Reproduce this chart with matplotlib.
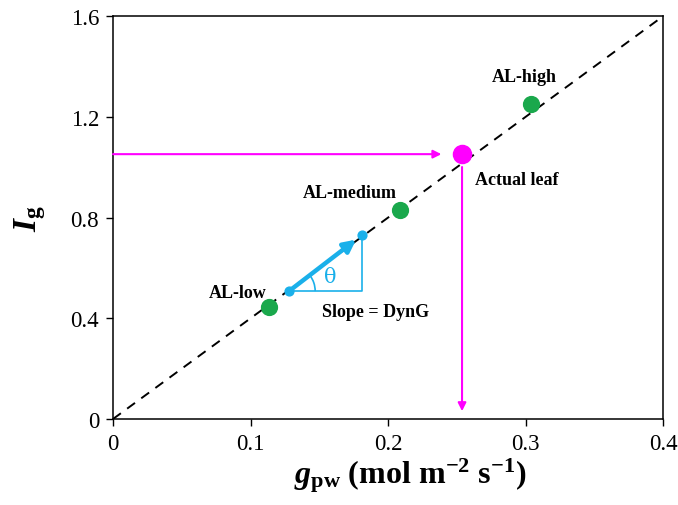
import numpy as np
import matplotlib.pyplot as plt
from matplotlib.patches import Arc

plt.rcParams['font.family'] = 'Liberation Serif'
plt.rcParams['mathtext.fontset'] = 'custom'
plt.rcParams['mathtext.rm'] = 'Liberation Serif:bold'
plt.rcParams['mathtext.it'] = 'Liberation Serif:bold:italic'
plt.rcParams['mathtext.bf'] = 'Liberation Serif:bold'

# leaf groups on the 1:1 DynG line
names = ['AL-low', 'AL-medium', 'AL-high']
gpw = [0.1135, 0.2087, 0.304]
ig = [0.444, 0.829, 1.25]

actual_g = 0.2538
actual_i = 1.052

# slope triangle points
tri_x = [0.128, 0.181]
tri_y = [0.508, 0.730]

line_x = [0, 0.4]
line_y = [0, 1.6]

xticks = [0, 0.1, 0.2, 0.3, 0.4]
xticklabels = ['0', '0.1', '0.2', '0.3', '0.4']
yticks = [0, 0.4, 0.8, 1.2, 1.6]
yticklabels = ['0', '0.4', '0.8', '1.2', '1.6']

green = '#1aa84c'
magenta = '#ff00ff'
blue = '#1ab0ea'

fig = plt.figure(figsize=(6.78, 5.06), dpi=100)
ax = fig.add_axes([0.1667, 0.170, 0.8113, 0.796])

ax.plot(line_x, line_y, ls=(0, (5, 4)), color='black', lw=1.4, zorder=1)

# magenta arrows to/from actual leaf
ax.annotate('', xy=(actual_g - 0.013, actual_i), xytext=(0, actual_i),
            arrowprops=dict(arrowstyle='-|>', color=magenta, lw=1.5, mutation_scale=12, shrinkA=0))
ax.annotate('', xy=(actual_g, 0.02), xytext=(actual_g, actual_i - 0.04),
            arrowprops=dict(arrowstyle='-|>', color=magenta, lw=1.5, mutation_scale=12))

ax.scatter(gpw, ig, s=130, color=green, zorder=3)
ax.scatter([actual_g], [actual_i], s=170, color=magenta, zorder=3)

# slope triangle
ax.plot([tri_x[0], tri_x[1], tri_x[1]], [tri_y[0], tri_y[0], tri_y[1]], color=blue, lw=1.2, zorder=2)
ax.annotate('', xy=(tri_x[1] - 0.001, tri_y[1] - 0.004), xytext=(tri_x[0], tri_y[0]),
            arrowprops=dict(arrowstyle='-|>', color=blue, lw=3.2, mutation_scale=18, shrinkA=0, shrinkB=4))
ax.scatter(tri_x, tri_y, s=40, color=blue, zorder=4)
ang = np.degrees(np.arctan2(tri_y[1] - tri_y[0], tri_x[1] - tri_x[0]))
arc_w = 0.038
arc = Arc((tri_x[0], tri_y[0]), arc_w, arc_w * 1375 / 252, theta1=0, theta2=ang, color=blue, lw=1.2)
ax.add_patch(arc)
ax.text(0.158, 0.567, 'θ', color=blue, fontsize=15, fontfamily='DejaVu Serif', ha='center', va='center')

ax.text(0.0698, 0.504, names[0], fontsize=13, fontweight='bold', ha='left', va='center')
ax.text(0.138, 0.901, names[1], fontsize=13, fontweight='bold', ha='left', va='center')
ax.text(0.2756, 1.361, names[2], fontsize=13, fontweight='bold', ha='left', va='center')
ax.text(0.2633, 0.952, 'Actual leaf', fontsize=13, fontweight='bold', ha='left', va='center')
ax.text(0.152, 0.425, 'Slope = DynG', fontsize=13, fontweight='bold', ha='left', va='center')

ax.set_xlim(0, 0.4)
ax.set_ylim(0, 1.6)
ax.set_xticks(xticks)
ax.set_xticklabels(xticklabels)
ax.set_yticks(yticks)
ax.set_yticklabels(yticklabels)
ax.tick_params(labelsize=16.5, direction='out', length=5, width=1, pad=5)
for s in ax.spines.values():
    s.set_linewidth(1.1)

minus = '\u2212'
ax.set_xlabel(r'$g_{\mathrm{pw}}$' + ' (mol m$^{' + minus + '2}$ s$^{' + minus + '1}$)',
              fontsize=23, fontweight='bold')
ax.xaxis.set_label_coords(0.54, -0.09)
ax.set_ylabel(r'$I_{\mathrm{g}}$', fontsize=24, labelpad=16)

fig.savefig('out.png', dpi=100)
